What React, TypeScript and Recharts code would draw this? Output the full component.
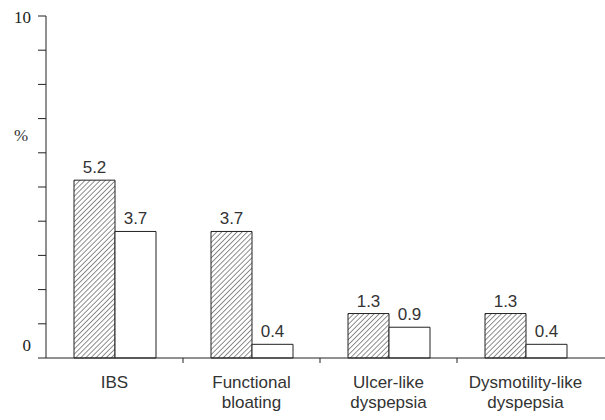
import React from "react"
import { BarChart, Bar, XAxis, YAxis, LabelList } from "recharts"

const categories = ["IBS", "Functional\nbloating", "Ulcer-like\ndyspepsia", "Dysmotility-like\ndyspepsia"]
const hatchedValues = [5.2, 3.7, 1.3, 1.3]
const openValues = [3.7, 0.4, 0.9, 0.4]
const yTicks = [0, 1, 2, 3, 4, 5, 6, 7, 8, 9, 10]
const yLabelled = [0, 10]

const data = categories.map((name, i) => ({
  name,
  hatched: hatchedValues[i],
  open: openValues[i],
}))

const W = 605
const H = 420
const AXIS_W = 46
const PAD_RIGHT = 11
const BAND = (W - AXIS_W - PAD_RIGHT) / categories.length
const INK = "#222"
const SANS = "'Liberation Sans', Arial, sans-serif"
const SERIF = "'Liberation Serif', 'Times New Roman', serif"

const XTick = (props: any) => {
  const { x, y, payload, index } = props
  const lines = String(payload.value).split("\n")
  return (
    <g>
      {index < categories.length - 1 && (
        <line x1={x + BAND / 2} x2={x + BAND / 2} y1={y} y2={y + 5} stroke={INK} />
      )}
      <text x={x} y={y + 30} textAnchor="middle" fontFamily={SANS} fontSize={17} fill="#333">
        {lines.map((l, i) => (
          <tspan key={i} x={x} dy={i === 0 ? 0 : 20}>
            {l}
          </tspan>
        ))}
      </text>
    </g>
  )
}

const YTick = (props: any) => {
  const { x, y, payload } = props
  if (!yLabelled.includes(payload.value)) return <g />
  return (
    <text
      x={x}
      y={y + (payload.value === 0 ? -13 : 1)}
      textAnchor="end"
      dominantBaseline="central"
      fontFamily={SERIF}
      fontSize={17}
      fill="#222"
    >
      {payload.value}
    </text>
  )
}

export default function App() {
  return (
    <div style={{ position: "absolute", left: 0, top: 0, background: "#fff" }}>
      <BarChart
        width={W}
        height={H}
        data={data}
        margin={{ top: 16, right: 0, left: 0, bottom: 0 }}
        barGap={0}
      >
        <defs>
          <pattern id="hatch" width="3.6" height="3.6" patternUnits="userSpaceOnUse" patternTransform="rotate(45)">
            <rect width="3.6" height="3.6" fill="#fff" />
            <line x1="0" y1="0" x2="0" y2="3.6" stroke="#333" strokeWidth={1.1} />
          </pattern>
        </defs>
        <XAxis
          dataKey="name"
          interval={0}
          height={62}
          tickSize={0}
          tickMargin={0}
          tickLine={false}
          axisLine={{ stroke: INK }}
          padding={{ left: 0, right: PAD_RIGHT }}
          tick={<XTick />}
        />
        <YAxis
          width={AXIS_W}
          domain={[0, 10]}
          ticks={yTicks}
          interval={0}
          tickSize={8}
          tickMargin={7}
          axisLine={{ stroke: INK }}
          tickLine={{ stroke: INK }}
          tick={<YTick />}
          label={{
            content: () => (
              <text x={21} y={135} textAnchor="middle" dominantBaseline="central" fontFamily={SERIF} fontSize={17} fill="#333">
                %
              </text>
            ),
          }}
        />
        <Bar dataKey="hatched" barSize={41} fill="url(#hatch)" stroke={INK} strokeWidth={1} isAnimationActive={false}>
          <LabelList dataKey="hatched" position="top" offset={7} fill="#333" fontSize={17} fontFamily={SANS} />
        </Bar>
        <Bar dataKey="open" barSize={41} fill="#fff" stroke={INK} strokeWidth={1} isAnimationActive={false}>
          <LabelList dataKey="open" position="top" offset={7} fill="#333" fontSize={17} fontFamily={SANS} />
        </Bar>
      </BarChart>
    </div>
  )
}
